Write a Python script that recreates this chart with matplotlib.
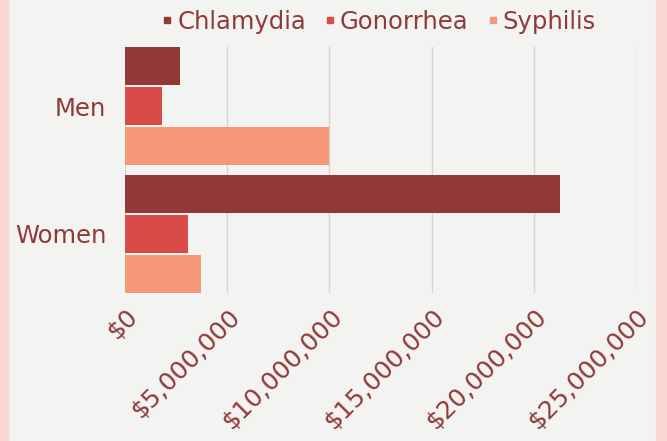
import matplotlib.pyplot as plt
import matplotlib.transforms as mtransforms
from matplotlib.patches import Rectangle
from matplotlib.lines import Line2D
from matplotlib.ticker import FuncFormatter
import numpy as np

plt.rcParams['font.family'] = ['DejaVu Sans']

# data (estimated costs, USD)
groups = ['Men', 'Women']
series = ['Chlamydia', 'Gonorrhea', 'Syphilis']
chlamydia = [2.7e6, 21.3e6]
gonorrhea = [1.8e6, 3.1e6]
syphilis = [10.0e6, 3.7e6]
colors = ['#923937', '#d94b48', '#f5987a']
text_col = '#8f3a38'

fig = plt.figure(figsize=(6.67, 4.41), dpi=100)
fig.patch.set_facecolor('#f3f3f1')
# pink side bands
fig.patches.append(Rectangle((0, 0), 8 / 667, 1, transform=fig.transFigure,
                             color='#fbd6d4', zorder=0))
fig.patches.append(Rectangle((656 / 667, 0), 11 / 667, 1, transform=fig.transFigure,
                             color='#fbd6d4', zorder=0))

ax = fig.add_axes([125 / 667, 1 - 293 / 441, 511 / 667, 246 / 441])
ax.set_facecolor('none')

y = np.arange(len(groups))
step = 0.3125
h = 0.297
for i, (vals, c) in enumerate(zip([chlamydia, gonorrhea, syphilis], colors)):
    ax.barh(y + (i - 1) * step, vals, height=h, color=c, zorder=3)

ax.set_xlim(0, 25e6)
ax.set_ylim(1 + step + h / 2, -step - h / 2)
ax.set_xticks(np.arange(0, 25e6 + 1, 5e6))
ax.xaxis.set_major_formatter(FuncFormatter(lambda v, p: '${:,.0f}'.format(v)))
ax.set_yticks(y)
ax.set_yticklabels(groups)
ax.grid(axis='x', color='#ddd0d0', linewidth=1, zorder=0)
for s in ax.spines.values():
    s.set_visible(False)
ax.tick_params(length=0, colors=text_col)
ax.tick_params(axis='y', pad=13.5, labelsize=17.5)
ax.tick_params(axis='x', pad=14, labelsize=18)

offset = mtransforms.ScaledTranslation(9 / 100, 0, fig.dpi_scale_trans)
for lab in ax.get_xticklabels():
    lab.set_rotation(45)
    lab.set_ha('right')
    lab.set_va('center')
    lab.set_rotation_mode('anchor')
    lab.set_transform(lab.get_transform() + offset)

handles = [Line2D([], [], marker='s', linestyle='none', markersize=4.5, color=c)
           for c in colors]
fig.legend(handles, series, loc='center', bbox_to_anchor=(378 / 667, 1 - 22 / 441),
           ncol=3, frameon=False, fontsize=17.5, labelcolor=text_col,
           handletextpad=0.1, columnspacing=0.7, handlelength=0.6)

fig.savefig('out.png', dpi=100, facecolor=fig.get_facecolor())
